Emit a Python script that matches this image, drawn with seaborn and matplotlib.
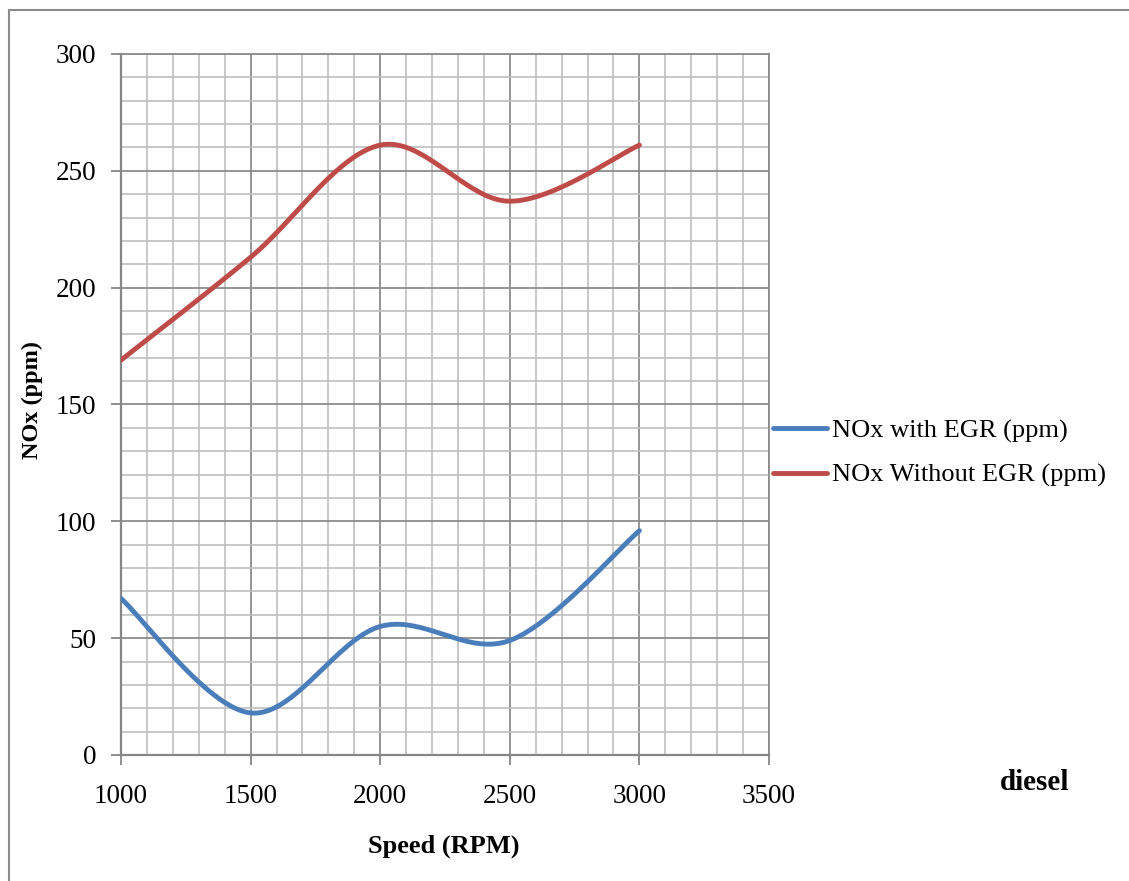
import numpy as np
import pandas as pd
import matplotlib
matplotlib.use("Agg")
import matplotlib.pyplot as plt
import seaborn as sns
from matplotlib.ticker import MultipleLocator
from matplotlib.lines import Line2D
from matplotlib.patches import Rectangle

speed = [1000, 1500, 2000, 2500, 3000]
nox_with_egr = [67, 18, 55, 49, 96]
nox_without_egr = [169, 213, 261, 237, 261]
series_names = ["NOx with EGR (ppm)", "NOx Without EGR (ppm)"]
colors = ["#4A7EBB", "#BE4B48"]


def smooth(xs, ys, n=40):
    """Excel-style smoothed line (Catmull-Rom Bezier through the points)."""
    xs = np.asarray(xs, float)
    ys = np.asarray(ys, float)
    P = np.column_stack([xs, ys])
    m = len(P)
    out = []
    t = np.linspace(0, 1, n)
    for i in range(m - 1):
        p0 = P[i - 1] if i > 0 else P[i]
        p1 = P[i]
        p2 = P[i + 1]
        p3 = P[i + 2] if i + 2 < m else P[i + 1]
        c1 = p1 + (p2 - p0) / 6.0
        c2 = p2 - (p3 - p1) / 6.0
        seg = ((1 - t) ** 3)[:, None] * p1 + (3 * (1 - t) ** 2 * t)[:, None] * c1 \
            + (3 * (1 - t) * t ** 2)[:, None] * c2 + (t ** 3)[:, None] * p2
        out.append(seg if i == 0 else seg[1:])
    return np.vstack(out)


sns.set_theme(style="white")
plt.rcParams["font.family"] = ["Liberation Serif", "DejaVu Serif"]
plt.rcParams["text.color"] = "black"

W, H = 1129, 881
fig = plt.figure(figsize=(W / 100, H / 100), dpi=100)
ax = fig.add_axes([121 / W, 1 - 755 / H, (769 - 121) / W, (755 - 54) / H])

frames = []
for name, vals in zip(series_names, [nox_with_egr, nox_without_egr]):
    c = smooth(speed, vals)
    frames.append(pd.DataFrame({"x": c[:, 0], "y": c[:, 1], "series": name}))
df = pd.concat(frames, ignore_index=True)

sns.lineplot(data=df, x="x", y="y", hue="series", palette=colors,
             estimator=None, sort=False, linewidth=3.5, ax=ax, legend=False,
             zorder=5)

ax.set_xlim(1000, 3500)
ax.set_ylim(0, 300)
ax.xaxis.set_major_locator(MultipleLocator(500))
ax.xaxis.set_minor_locator(MultipleLocator(100))
ax.yaxis.set_major_locator(MultipleLocator(50))
ax.yaxis.set_minor_locator(MultipleLocator(10))

ax.grid(which="minor", color="#BFBFBF", linewidth=1.2, zorder=0)
ax.grid(which="major", color="#8C8C8C", linewidth=1.3, zorder=1)
ax.set_axisbelow(True)

for s in ["top", "right"]:
    ax.spines[s].set_visible(True)
    ax.spines[s].set_color("#8C8C8C")
    ax.spines[s].set_linewidth(1.3)
for s in ["left", "bottom"]:
    ax.spines[s].set_color("#868686")
    ax.spines[s].set_linewidth(1.6)

ax.tick_params(axis="both", which="major", direction="out", length=7, width=1.3,
               color="#868686", labelsize=19.5, labelcolor="black")
ax.tick_params(axis="x", which="major", bottom=True, pad=14)
ax.tick_params(axis="y", which="major", left=True, pad=11)
ax.tick_params(which="minor", length=0)

ax.set_xlabel("Speed (RPM)", fontsize=19, fontweight="bold", color="black",
              va="center")
ax.set_ylabel("NOx (ppm)", fontsize=17.5, fontweight="bold", color="black",
              va="center")
ax.xaxis.set_label_coords((444 - 121) / (769 - 121), -(846 - 755) / (755 - 54))
ax.yaxis.set_label_coords(-(121 - 32) / (769 - 121), (755 - 400) / (755 - 54))

handles = [Line2D([0], [0], color=c, linewidth=3.5) for c in colors]
leg = fig.legend(handles, series_names, loc="center left",
                 bbox_to_anchor=(773 / W, 1 - 453 / H), frameon=False,
                 fontsize=19, handlelength=2.05, handletextpad=0.2,
                 labelspacing=0.78, borderpad=0, borderaxespad=0)
for t in leg.get_texts():
    t.set_color("black")

fig.text(1035 / W, 1 - 783 / H, "diesel", fontsize=21, fontweight="bold",
         ha="center", va="center", color="black")

fig.patches.append(Rectangle((9 / W, -0.1), 1.2, 1 - 10 / H + 0.1,
                             transform=fig.transFigure, fill=False,
                             edgecolor="#8C8C8C", linewidth=1.5))

fig.savefig("out.png", dpi=100)
